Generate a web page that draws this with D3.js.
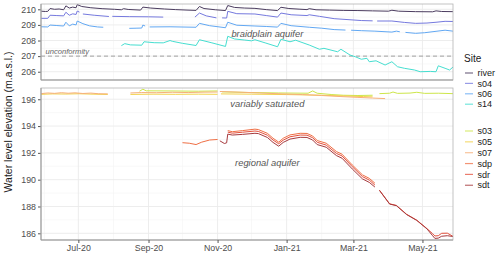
<!DOCTYPE html>
<html>
<head>
<meta charset="utf-8">
<script src="https://cdn.jsdelivr.net/npm/d3@7"></script>
<style>
  body { margin: 0; background: #fff; }
  svg { font-family: "Liberation Sans", Arial, sans-serif; }
</style>
</head>
<body>
<script>

// site groups and their series: [date, water level (m a.s.l.)], null = gap
var topSites = ["river", "s04", "s06", "s14"];
var bottomSites = ["s03", "s05", "s07", "sdp", "sdr", "sdt"];

var river = [["2020-05-29",209.88],["2020-06-02",209.86],["2020-06-04",209.87],["2020-06-06",210.05],["2020-06-10",210.00],["2020-06-14",210.02],["2020-06-18",209.97],["2020-06-20",210.22],["2020-06-23",210.08],["2020-06-26",210.14],["2020-06-29",210.10],["2020-06-30",210.30],["2020-07-04",210.18],["2020-07-12",210.10],["2020-07-22",210.04],["2020-08-02",210.00],["2020-08-08",209.97],["2020-08-10",210.04],["2020-08-14",209.99],["2020-08-25",209.95],["2020-08-27",210.14],["2020-09-03",210.08],["2020-09-15",210.02],["2020-09-25",209.98],["2020-10-05",209.95],["2020-10-13",209.93],["2020-10-16",210.18],["2020-10-20",210.05],["2020-10-30",209.97],["2020-11-08",209.92],["2020-11-10",210.24],["2020-11-16",210.12],["2020-11-25",210.08],["2020-12-04",210.06],["2020-12-14",209.98],["2020-12-24",209.92],["2020-12-27",210.13],["2021-01-03",210.05],["2021-01-12",210.01],["2021-01-19",209.98],["2021-01-21",210.04],["2021-01-27",209.97],["2021-02-08",209.95],["2021-02-20",209.93],["2021-03-05",209.92],["2021-03-18",209.90],["2021-04-01",209.88],["2021-04-04",209.94],["2021-04-10",209.88],["2021-04-25",209.85],["2021-05-10",209.84],["2021-05-13",209.90],["2021-05-18",209.86],["2021-05-28",209.85]];

var s04 = [["2020-05-29",209.42],["2020-06-04",209.42],["2020-06-06",209.62],["2020-06-12",209.60],["2020-06-18",209.58],["2020-06-20",209.81],["2020-06-23",209.62],["2020-06-26",209.71],["2020-06-29",209.67],["2020-06-30",209.89],["2020-07-02",209.82],["2020-07-03",null],["2020-07-05",209.70],["2020-07-15",209.62],["2020-07-28",209.54],["2020-07-29",null],["2020-07-31",209.55],["2020-08-15",209.53],["2020-09-01",209.52],["2020-09-14",209.50],["2020-09-15",null],["2020-10-12",209.50],["2020-10-16",209.76],["2020-10-22",209.58],["2020-10-31",209.45],["2020-11-01",null],["2020-11-05",209.45],["2020-11-09",209.44],["2020-11-10",209.87],["2020-11-18",209.72],["2020-12-04",209.70],["2020-12-14",209.60],["2020-12-24",209.50],["2020-12-27",209.76],["2021-01-05",209.65],["2021-01-19",209.60],["2021-01-21",209.65],["2021-01-30",209.55],["2021-02-12",209.40],["2021-02-26",209.33],["2021-03-08",209.28],["2021-03-18",209.26],["2021-03-19",null],["2021-03-22",209.25],["2021-04-04",209.25],["2021-04-15",209.16],["2021-04-25",209.10],["2021-05-05",209.12],["2021-05-13",209.17],["2021-05-21",209.23],["2021-05-28",209.22]];

var s06 = [["2020-05-29",208.88],["2020-06-04",208.87],["2020-06-06",208.99],["2020-06-12",208.96],["2020-06-18",208.93],["2020-06-20",209.17],["2020-06-23",208.94],["2020-06-26",209.05],["2020-06-29",209.00],["2020-06-30",209.25],["2020-07-05",209.08],["2020-07-11",208.94],["2020-07-18",208.87],["2020-07-23",208.85],["2020-07-24",null],["2020-08-15",208.78],["2020-08-21",208.79],["2020-08-26",208.80],["2020-08-27",208.99],["2020-08-29",208.93],["2020-08-30",null],["2020-09-02",208.87],["2020-09-20",208.88],["2020-10-05",208.86],["2020-10-13",208.85],["2020-10-16",209.10],["2020-10-25",208.95],["2020-11-08",208.82],["2020-11-10",209.17],["2020-11-18",208.98],["2020-12-04",208.93],["2020-12-14",208.90],["2020-12-24",208.86],["2020-12-27",209.10],["2021-01-05",208.95],["2021-01-21",208.85],["2021-02-01",208.79],["2021-02-12",208.70],["2021-02-22",208.67],["2021-02-23",null],["2021-02-27",208.66],["2021-03-08",208.63],["2021-03-20",208.60],["2021-04-04",208.54],["2021-04-08",208.60],["2021-04-11",208.56],["2021-04-12",null],["2021-04-16",208.52],["2021-04-25",208.46],["2021-05-03",208.50],["2021-05-13",208.59],["2021-05-21",208.66],["2021-05-28",208.60]];

var s14 = [["2020-08-08",207.67],["2020-08-11",207.80],["2020-08-16",207.72],["2020-08-26",207.70],["2020-08-28",207.92],["2020-09-06",207.86],["2020-09-14",207.85],["2020-09-20",208.00],["2020-09-22",207.95],["2020-10-01",207.82],["2020-10-13",207.68],["2020-10-16",208.05],["2020-10-27",207.85],["2020-11-08",207.62],["2020-11-10",208.27],["2020-11-16",208.10],["2020-11-25",208.03],["2020-12-01",207.98],["2020-12-04",208.05],["2020-12-13",207.85],["2020-12-24",207.60],["2020-12-27",208.08],["2021-01-04",207.92],["2021-01-09",208.02],["2021-01-21",207.71],["2021-01-30",207.44],["2021-02-03",207.50],["2021-02-15",207.28],["2021-02-18",207.44],["2021-02-26",207.07],["2021-03-03",206.95],["2021-03-08",206.80],["2021-03-13",206.86],["2021-03-15",206.64],["2021-03-21",206.70],["2021-03-29",206.43],["2021-04-04",206.64],["2021-04-09",206.32],["2021-04-15",206.22],["2021-04-24",206.11],["2021-04-29",206.00],["2021-05-08",206.02],["2021-05-13",206.00],["2021-05-15",206.38],["2021-05-21",206.22],["2021-05-25",206.11],["2021-05-28",206.30]];

var s03 = [["2020-08-24",196.60],["2020-08-27",196.75],["2020-08-30",196.63],["2020-09-20",196.62],["2020-10-15",196.60],["2020-11-01",196.62],["2020-11-03",null],["2020-11-05",196.55],["2020-12-01",196.50],["2020-12-25",196.47],["2021-01-20",196.45],["2021-01-24",196.62],["2021-01-28",196.45],["2021-02-10",196.35],["2021-02-20",196.30],["2021-03-05",196.28],["2021-03-18",196.30],["2021-03-20",null],["2021-03-24",196.42],["2021-04-02",196.45],["2021-04-05",196.54],["2021-04-09",196.44],["2021-04-20",196.46],["2021-04-26",196.52],["2021-05-03",196.44],["2021-05-15",196.45],["2021-05-28",196.42]];

var s05 = [["2020-05-29",196.37],["2020-06-08",196.40],["2020-06-20",196.39],["2020-07-02",196.41],["2020-07-14",196.38],["2020-07-27",196.36],["2020-07-28",null],["2020-08-16",196.36],["2020-09-05",196.38],["2020-09-25",196.37],["2020-10-15",196.38],["2020-11-01",196.37],["2020-11-02",null],["2020-11-04",196.40],["2020-12-01",196.38],["2021-01-01",196.35],["2021-02-01",196.30],["2021-02-20",196.25],["2021-03-10",196.20],["2021-03-18",196.18]];

var s07 = [["2020-05-29",196.42],["2020-06-04",196.47],["2020-06-10",196.44],["2020-06-16",196.49],["2020-06-22",196.45],["2020-06-28",196.48],["2020-07-05",196.43],["2020-07-12",196.46],["2020-07-19",196.41],["2020-07-27",196.40],["2020-07-28",null],["2020-08-16",196.47],["2020-08-26",196.50],["2020-09-08",196.49],["2020-09-22",196.52],["2020-10-06",196.50],["2020-10-20",196.53],["2020-11-01",196.54],["2020-11-02",null],["2020-11-03",196.58],["2020-11-20",196.53],["2020-12-08",196.47],["2020-12-28",196.40],["2021-01-15",196.35],["2021-02-01",196.28],["2021-02-18",196.20],["2021-03-05",196.14],["2021-03-18",196.09],["2021-03-29",196.05]];

var sdp = [["2020-10-01",192.76],["2020-10-07",192.72],["2020-10-13",192.62],["2020-10-18",192.80],["2020-10-25",192.96],["2020-11-01",193.00],["2020-11-02",null],["2020-11-10",193.66],["2020-11-14",193.58],["2020-11-23",193.66],["2020-12-04",193.77],["2020-12-07",193.74],["2020-12-15",193.46],["2020-12-20",193.09],["2020-12-25",192.80],["2020-12-29",193.09],["2021-01-04",193.34],["2021-01-13",193.46],["2021-01-19",193.45],["2021-01-24",193.26],["2021-01-28",192.92],["2021-02-05",192.72],["2021-02-14",192.10],["2021-02-19",191.90],["2021-02-28",191.10],["2021-03-09",190.36],["2021-03-15",190.10],["2021-03-20",189.74]];

var sdr = [["2020-11-10",193.55],["2020-11-14",193.47],["2020-11-23",193.54],["2020-12-04",193.63],["2020-12-07",193.60],["2020-12-15",193.32],["2020-12-20",192.96],["2020-12-25",192.68],["2020-12-29",192.95],["2021-01-04",193.20],["2021-01-13",193.33],["2021-01-19",193.32],["2021-01-24",193.13],["2021-01-28",192.79],["2021-02-05",192.58],["2021-02-14",191.96],["2021-02-19",191.77],["2021-02-28",190.97],["2021-03-09",190.23],["2021-03-15",189.97],["2021-03-20",189.60],["2021-03-22",null],["2021-03-24",189.22],["2021-04-02",188.20],["2021-04-08",188.08],["2021-04-17",187.42],["2021-04-26",186.98],["2021-05-05",186.35],["2021-05-10",185.97],["2021-05-12",185.80],["2021-05-15",185.82],["2021-05-18",186.00],["2021-05-23",186.01],["2021-05-28",185.77]];

var sdt = [["2020-11-03",192.90],["2020-11-07",192.70],["2020-11-09",192.75],["2020-11-10",193.40],["2020-11-14",193.33],["2020-11-23",193.38],["2020-12-04",193.46],["2020-12-07",193.44],["2020-12-15",193.15],["2020-12-20",192.78],["2020-12-25",192.50],["2020-12-29",192.78],["2021-01-04",193.03],["2021-01-13",193.16],["2021-01-19",193.15],["2021-01-24",192.96],["2021-01-28",192.62],["2021-02-05",192.42],["2021-02-14",191.80],["2021-02-19",191.60],["2021-02-28",190.80],["2021-03-09",190.06],["2021-03-15",189.80],["2021-03-20",189.45],["2021-03-22",null],["2021-03-24",189.20],["2021-04-02",188.18],["2021-04-08",188.06],["2021-04-17",187.40],["2021-04-26",186.96],["2021-05-05",186.33],["2021-05-10",185.82],["2021-05-12",185.62],["2021-05-15",185.64],["2021-05-18",185.78],["2021-05-23",185.82],["2021-05-28",185.76]];

var series = { river: river, s04: s04, s06: s06, s14: s14,
  s03: s03, s05: s05, s07: s07, sdp: sdp, sdr: sdr, sdt: sdt };

var unconformityLevel = 207;
var topTicks = [206, 207, 208, 209, 210];
var bottomTicks = [186, 188, 190, 192, 194, 196];

var notes = [
  { panel: "top", date: "2020-12-15", value: 208.46, text: "braidplain aquifer" },
  { panel: "bottom", date: "2020-12-15", value: 195.7, text: "variably saturated" },
  { panel: "bottom", date: "2020-12-15", value: 191.27, text: "regional aquifer" }
];

var width = 500, height = 256;
var left = 41, right = 453;
var topY = [4, 80], botY = [88, 240];

var parse = d3.timeParse("%Y-%m-%d");

var color = d3.scaleOrdinal()
  .domain(topSites.concat(bottomSites))
  .range(["#4b3c5f", "#7579de", "#62a8f3", "#46ded0",
          "#cde64a", "#f3d24a", "#f6b07a", "#ef6f45", "#e4503c", "#a63a3e"]);

var x = d3.scaleTime()
  .domain([parse("2020-05-29"), parse("2021-05-28")])
  .range([left, right]);

var yTop = d3.scaleLinear().domain([205.47, 210.34]).range([topY[1], topY[0]]);
var yBot = d3.scaleLinear().domain([185.5, 196.84]).range([botY[1], botY[0]]);

var svg = d3.select("body").append("svg")
  .attr("width", width)
  .attr("height", height);

var majorX = x.ticks(d3.timeMonth.filter(d => d.getMonth() % 2 === 0));
var minorX = x.ticks(d3.timeMonth.filter(d => d.getMonth() % 2 === 1));

function panel(y, ticks, minor, yr) {
  var g = svg.append("g");
  g.append("rect")
    .attr("x", left).attr("y", yr[0])
    .attr("width", right - left).attr("height", yr[1] - yr[0])
    .attr("fill", "#fff");

  g.selectAll(".minh").data(minor).enter().append("line")
    .attr("x1", left).attr("x2", right)
    .attr("y1", d => y(d)).attr("y2", d => y(d))
    .attr("stroke", "#f4f4f4").attr("stroke-width", 0.6);
  g.selectAll(".minv").data(minorX).enter().append("line")
    .attr("y1", yr[0]).attr("y2", yr[1])
    .attr("x1", d => x(d)).attr("x2", d => x(d))
    .attr("stroke", "#f4f4f4").attr("stroke-width", 0.6);
  g.selectAll(".majh").data(ticks).enter().append("line")
    .attr("x1", left).attr("x2", right)
    .attr("y1", d => y(d)).attr("y2", d => y(d))
    .attr("stroke", "#ebebeb").attr("stroke-width", 0.9);
  g.selectAll(".majv").data(majorX).enter().append("line")
    .attr("y1", yr[0]).attr("y2", yr[1])
    .attr("x1", d => x(d)).attr("x2", d => x(d))
    .attr("stroke", "#ebebeb").attr("stroke-width", 0.9);

  var ax = g.append("g")
    .attr("transform", `translate(${left},0)`)
    .call(d3.axisLeft(y).tickValues(ticks).tickSize(3).tickPadding(2).tickFormat(d3.format("d")));
  ax.select(".domain").remove();
  ax.selectAll("line").attr("stroke", "#555");
  ax.selectAll("text").attr("fill", "#4d4d4d").style("font-size", "8.8px");
  return g;
}

var gTop = panel(yTop, topTicks, [205.5, 206.5, 207.5, 208.5, 209.5], topY);
var gBot = panel(yBot, bottomTicks, [187, 189, 191, 193, 195], botY);

// unconformity
gTop.append("line")
  .attr("x1", left).attr("x2", right)
  .attr("y1", yTop(unconformityLevel)).attr("y2", yTop(unconformityLevel))
  .attr("stroke", "#8c8c8c").attr("stroke-width", 0.8)
  .attr("stroke-dasharray", "4,3");
gTop.append("text")
  .attr("x", x(parse("2020-06-02")))
  .attr("y", yTop(unconformityLevel) - 2)
  .attr("fill", "#666")
  .style("font-size", "7.6px").style("font-style", "italic")
  .text("unconformity");

function drawLines(g, sites, y) {
  var line = d3.line()
    .defined(d => d[1] != null)
    .x(d => x(parse(d[0])))
    .y(d => y(d[1]));
  g.append("g").selectAll("path")
    .data(sites)
    .enter()
    .append("path")
    .attr("d", s => line(series[s]))
    .attr("fill", "none")
    .attr("stroke", s => color(s))
    .attr("stroke-width", 1)
    .attr("stroke-linejoin", "round");
}

drawLines(gTop, topSites, yTop);
drawLines(gBot, bottomSites, yBot);

// panel borders
[topY, botY].forEach(yr => {
  svg.append("rect")
    .attr("x", left).attr("y", yr[0])
    .attr("width", right - left).attr("height", yr[1] - yr[0])
    .attr("fill", "none").attr("stroke", "#b5b5b5").attr("stroke-width", 0.8);
  svg.append("path")
    .attr("d", `M${left},${yr[0]}V${yr[1]}H${right}`)
    .attr("fill", "none").attr("stroke", "#999").attr("stroke-width", 1);
});

// annotations
svg.append("g").selectAll("text")
  .data(notes)
  .enter()
  .append("text")
  .attr("x", d => x(parse(d.date)))
  .attr("y", d => (d.panel == "top" ? yTop : yBot)(d.value))
  .attr("dy", "0.35em")
  .attr("text-anchor", "middle")
  .attr("fill", "#555")
  .style("font-size", "9.4px").style("font-style", "italic")
  .text(d => d.text);

// x axis
var xa = svg.append("g")
  .attr("transform", `translate(0,${botY[1]})`)
  .call(d3.axisBottom(x).tickValues(majorX).tickSize(3).tickPadding(2).tickFormat(d3.timeFormat("%b-%y")));
xa.select(".domain").remove();
xa.selectAll("line").attr("stroke", "#555");
xa.selectAll("text").attr("fill", "#4d4d4d").style("font-size", "8.8px");

svg.append("text")
  .attr("transform", `translate(12,${(topY[0] + botY[1]) / 2}) rotate(-90)`)
  .attr("text-anchor", "middle")
  .attr("fill", "#1a1a1a")
  .style("font-size", "10.5px")
  .text("Water level elevation (m.a.s.l.)");

// legend
var leg = svg.append("g");
leg.append("text")
  .attr("x", 464).attr("y", 62)
  .attr("fill", "#1a1a1a")
  .style("font-size", "10px")
  .text("Site");

var legItems = topSites.map((s, i) => ({ s: s, y: 73 + i * 10.4 }))
  .concat(bottomSites.map((s, i) => ({ s: s, y: 131 + i * 10.85 })));

var li = leg.selectAll(".item").data(legItems).enter().append("g");
li.append("line")
  .attr("x1", 465).attr("x2", 473)
  .attr("y1", d => d.y).attr("y2", d => d.y)
  .attr("stroke", d => color(d.s))
  .attr("stroke-opacity", 0.75)
  .attr("stroke-width", 1.2);
li.append("text")
  .attr("x", 477.5).attr("y", d => d.y)
  .attr("dy", "0.35em")
  .attr("fill", "#1a1a1a")
  .style("font-size", "9px")
  .text(d => d.s);

</script>
</body>
</html>
